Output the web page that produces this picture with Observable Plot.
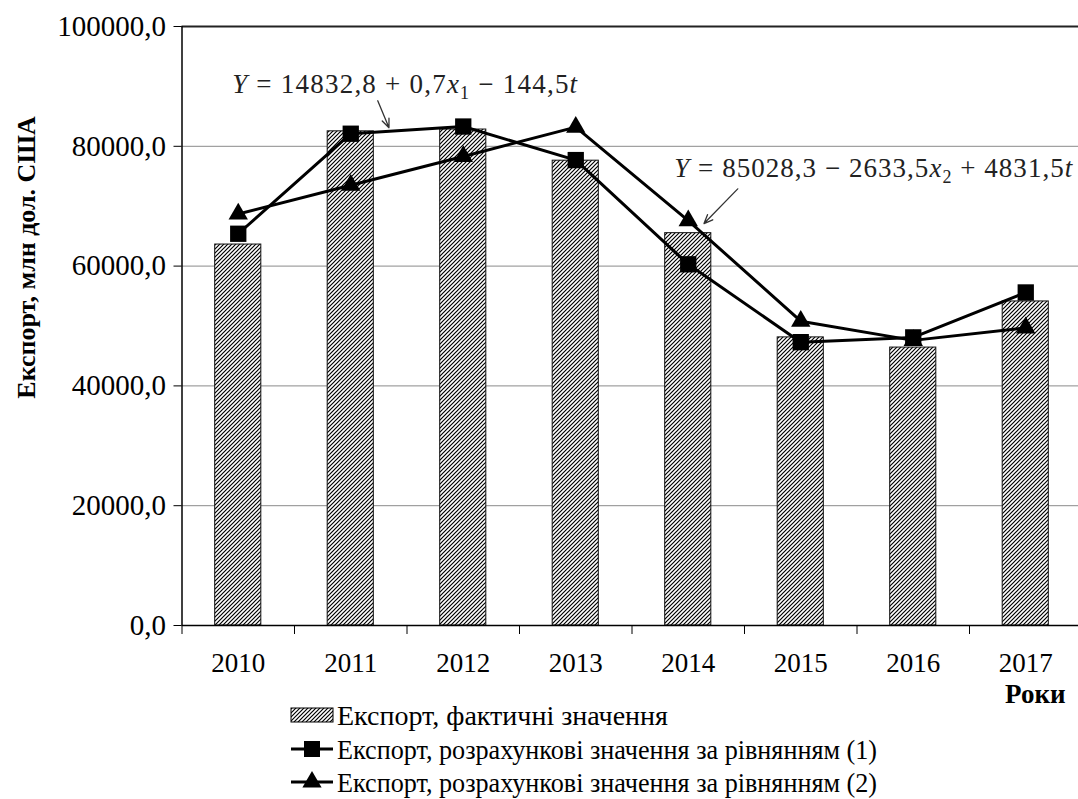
<!DOCTYPE html>
<html>
<head>
<meta charset="utf-8">
<script src="https://cdn.jsdelivr.net/npm/d3@7"></script>
<script src="https://cdn.jsdelivr.net/npm/@observablehq/plot@0.6"></script>
<style>
  html, body { margin: 0; padding: 0; background: #fff; }
  #chart svg { display: block; overflow: visible; }
  #legend { display: block; }
</style>
</head>
<body>
<div id="chart"></div>
<script>
// ---- data ----
const years = [2010, 2011, 2012, 2013, 2014, 2015, 2016, 2017];
const exportActual = [63600, 82500, 82800, 77600, 65500, 48100, 46400, 54100];
const exportEq1 = [65400, 82100, 83300, 77700, 60300, 47300, 48100, 55600];
const exportEq2 = [68700, 73500, 78300, 83200, 67600, 50800, 47600, 49700];
const yTicks = [0, 20000, 40000, 60000, 80000, 100000];
const gridValues = [20000, 40000, 60000, 80000];
const yLabel = "Експорт, млн дол. США";
const xLabel = "Роки";
const legendLabels = [
  "Експорт, фактичні значення",
  "Експорт, розрахункові значення за рівнянням (1)",
  "Експорт, розрахункові значення за рівнянням (2)"
];
const equation1 = [{t: "Y", i: true}, {t: " = 14832,8 + 0,7"}, {t: "x", i: true}, {t: "1", sub: true}, {t: " − 144,5"}, {t: "t", i: true}];
const equation2 = [{t: "Y", i: true}, {t: " = 85028,3 − 2633,5"}, {t: "x", i: true}, {t: "2", sub: true}, {t: " + 4831,5"}, {t: "t", i: true}];

// annotation anchors (in data units)
const annotations = [
  {parts: equation1, x: 2009.95, y: 88800, len: 345, ax1: 2011.24, ay1: 87600, ax2: 2011.34, ay2: 83100},
  {parts: equation2, x: 2013.88, y: 74800, len: 398, ax1: 2014.44, ay1: 72900, ax2: 2014.14, ay2: 67100}
];

const rows = years.map((year, i) => ({year, actual: exportActual[i], eq1: exportEq1[i], eq2: exportEq2[i]}));
const boundaries = years.map(y => y - 0.5).concat([years[years.length - 1] + 0.5]);
const fmt = d => d3.format(".1f")(d).replace(".", ",");
const FONT = "Liberation Serif, Times New Roman, serif";

const plot = Plot.plot({
  width: 1078,
  height: 704,
  marginLeft: 181.5,
  marginRight: 0,
  marginTop: 26,
  marginBottom: 79,
  style: {fontFamily: FONT, fontSize: "27px", color: "black", background: "white", overflow: "visible"},
  x: {type: "linear", domain: [2009.5, 2017.5], range: [181.5, 1081.5], axis: null},
  y: {domain: [0, 100000], range: [625, 26], axis: null},
  marks: [
    Plot.ruleY(gridValues, {x1: 2009.5, x2: 2017.5, stroke: "#8a8a8a", strokeWidth: 1}),
    Plot.ruleY([100000], {x1: 2009.5, x2: 2017.5, stroke: "#222", strokeWidth: 2}),
    Plot.rect(rows, {x1: d => d.year - 0.205, x2: d => d.year + 0.205, y1: 0, y2: "actual", fill: "url(#hatch)", stroke: "#111", strokeWidth: 1}),
    Plot.ruleX([2009.5], {y1: 0, y2: 100000, stroke: "black", strokeWidth: 1.5}),
    Plot.ruleY([0], {x1: 2009.5, x2: 2017.5, stroke: "black", strokeWidth: 1.5}),
    Plot.axisY({ticks: yTicks, tickSize: 8, tickPadding: 8, tickFormat: fmt, label: null, stroke: "black", fill: "black", fontSize: 29}),
    Plot.axisX({ticks: boundaries, tickSize: 9, tickFormat: () => "", label: null, stroke: "black"}),
    Plot.axisX({ticks: years, tickSize: 0, tickPadding: 27, tickFormat: d => String(d), label: null, fill: "black", fontSize: 27}),
    Plot.line(rows, {x: "year", y: "eq2", stroke: "black", strokeWidth: 3}),
    Plot.dot(rows, {x: "year", y: "eq2", symbol: "triangle", r: 7.2, fill: "black", stroke: "none"}),
    Plot.line(rows, {x: "year", y: "eq1", stroke: "black", strokeWidth: 3}),
    Plot.dot(rows, {x: "year", y: "eq1", symbol: "square", r: 9.2, fill: "black", stroke: "none"}),
    Plot.arrow(annotations, {x1: "ax1", y1: "ay1", x2: "ax2", y2: "ay2", stroke: "#333", strokeWidth: 1.3, headLength: 11, headAngle: 45}),
    Plot.text([yLabel], {frameAnchor: "top-left", dx: -165.5, dy: 231, rotate: -90, fontWeight: "bold", textAnchor: "middle", fill: "black", fontSize: 26}),
    Plot.text([xLabel], {frameAnchor: "bottom-right", dx: -13, dy: 77, textAnchor: "end", fontWeight: "bold", fill: "black", fontSize: 27})
  ]
});

// hatch pattern
function addHatch(svgSel, id) {
  const defs = svgSel.insert("defs", ":first-child");
  const p = defs.append("pattern").attr("id", id).attr("patternUnits", "userSpaceOnUse")
    .attr("width", 4).attr("height", 4);
  p.append("rect").attr("width", 4).attr("height", 4).attr("fill", "white");
  p.append("path").attr("d", "M-1,1 L1,-1 M0,4 L4,0 M3,5 L5,3")
    .attr("stroke", "black").attr("stroke-width", 1.2);
}
const svg = d3.select(plot);
addHatch(svg, "hatch");

// equations drawn through the plot's scales
const sx = plot.scale("x").apply, sy = plot.scale("y").apply;
annotations.forEach(a => {
  const t = svg.append("text")
    .attr("x", sx(a.x)).attr("y", sy(a.y))
    .attr("text-anchor", "start")
    .attr("font-family", FONT).attr("font-size", 27).attr("fill", "#222")
    .attr("textLength", a.len).attr("lengthAdjust", "spacing");
  let shifted = false;
  a.parts.forEach(part => {
    const ts = t.append("tspan").text(part.t);
    if (part.i) ts.attr("font-style", "italic");
    if (part.sub) { ts.attr("font-size", 18).attr("dy", 6); shifted = true; }
    else if (shifted) { ts.attr("dy", -6); shifted = false; }
  });
});

document.getElementById("chart").appendChild(plot);

// legend below the plot
const lg = d3.select("body").append("svg").attr("id", "legend")
  .attr("width", 1078).attr("height", 95)
  .style("font-family", FONT).style("font-size", "28px").style("overflow", "visible");
addHatch(lg, "hatch2");
const rowsY = [11, 45, 78];
const sw0 = 291, sw1 = 333, tx = 337;
lg.append("rect").attr("x", sw0).attr("y", rowsY[0] - 7).attr("width", sw1 - sw0).attr("height", 14)
  .attr("fill", "url(#hatch2)").attr("stroke", "black").attr("stroke-width", 1);
[1, 2].forEach(k => {
  lg.append("line").attr("x1", sw0).attr("x2", sw1).attr("y1", rowsY[k]).attr("y2", rowsY[k])
    .attr("stroke", "black").attr("stroke-width", 3);
});
lg.append("rect").attr("x", (sw0 + sw1) / 2 - 8).attr("y", rowsY[1] - 8).attr("width", 16).attr("height", 16).attr("fill", "black");
lg.append("path").attr("transform", `translate(${(sw0 + sw1) / 2},${rowsY[2]})`)
  .attr("d", d3.symbol(d3.symbolTriangle, 160)()).attr("fill", "black");
const legendLen = [331, 540, 540];
legendLabels.forEach((txt, k) => {
  lg.append("text").attr("x", tx).attr("y", rowsY[k]).attr("dy", "0.35em")
    .attr("textLength", legendLen[k]).attr("lengthAdjust", "spacingAndGlyphs")
    .attr("fill", "black").text(txt);
});
</script>
</body>
</html>
